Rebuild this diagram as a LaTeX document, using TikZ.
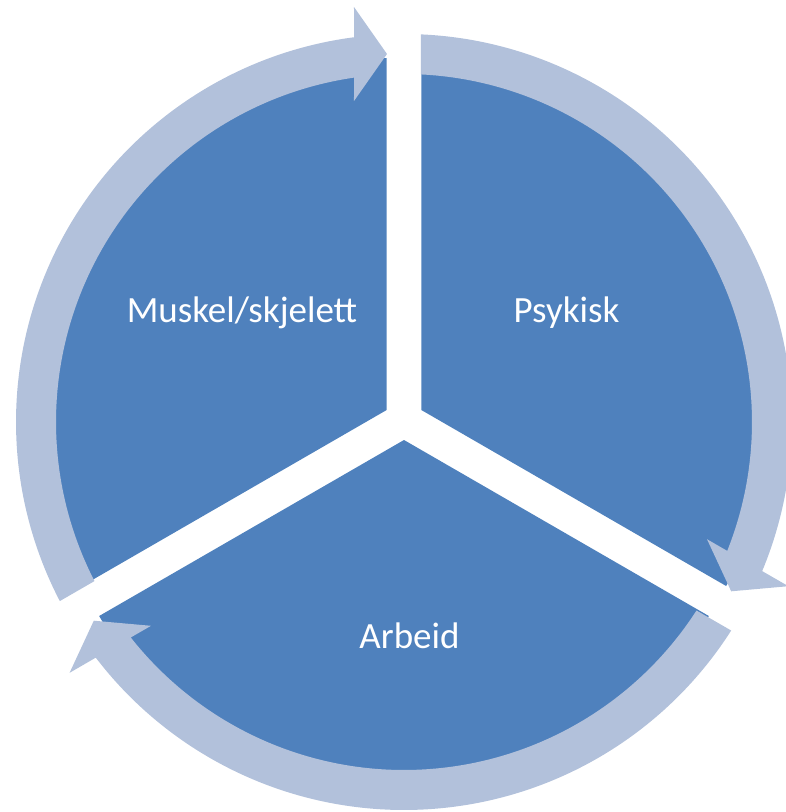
\documentclass[tikz,border=0pt]{standalone}
\usepackage{fontspec}
\setmainfont{Carlito}
\usepackage{tikz}

\definecolor{segblue}{RGB}{79,129,189}
\definecolor{bandblue}{RGB}{178,193,219}

\begin{document}
\begin{tikzpicture}[x=1pt, y=1pt,
    seg/.style={fill=segblue},
    band/.style={fill=bandblue},
    lbl/.style={text=white, inner sep=0pt, anchor=base, font=\fontsize{37}{44}\selectfont}]
    % Page frame
    \clip (-404,-390) rectangle (382,422);

    % Segment: Muskel/skjelett
    \fill[seg] (-17.32,12) -- ++(210:352) arc[start angle=210, end angle=90, radius=352] -- cycle;
    % Segment: Psykisk
    \fill[seg] (17.32,12) -- ++(90:352) arc[start angle=90, end angle=-30, radius=352] -- cycle;
    % Segment: Arbeid
    \fill[seg] (0,-18) -- ++(-30:352) arc[start angle=-30, end angle=-150, radius=352] -- cycle;

    % Arrow round the left (to the top)
    \fill[band] (207.49:388) arc[start angle=207.49, end angle=97.40, radius=388]
        -- (-50,415) -- (-17,368) -- (-50,321)
        -- (98.26:348) arc[start angle=98.26, end angle=207.20, radius=348] -- cycle;
    % Arrow round the right (to the lower right)
    \fill[band] (87.49:388) arc[start angle=87.49, end angle=-22.60, radius=388]
        -- (384.4,-164.2) -- (327.2,-169.3) -- (303.0,-117.2)
        -- (-21.74:348) arc[start angle=-21.74, end angle=87.20, radius=348] -- cycle;
    % Arrow round the bottom (to the lower left)
    \fill[band] (-32.51:388) arc[start angle=-32.51, end angle=-142.60, radius=388]
        -- (-334.4,-250.8) -- (-310.2,-198.7) -- (-253.0,-203.8)
        -- (-141.74:348) arc[start angle=-141.74, end angle=-32.80, radius=348] -- cycle;

    % Labels
    \node[lbl] (muskel) at (-162,100) {Muskel/skjelett};
    \node[lbl] (psykisk) at (162.5,100) {Psykisk};
    \node[lbl] (arbeid) at (5.5,-226) {Arbeid};
\end{tikzpicture}
\end{document}
